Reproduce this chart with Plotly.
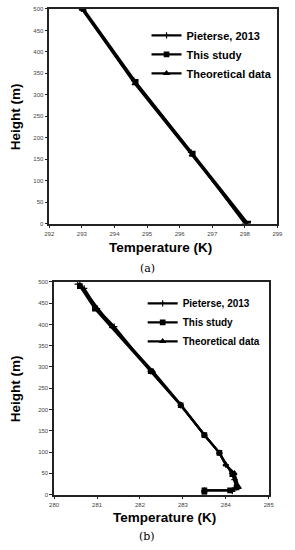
import plotly.graph_objects as go

# ---- Panel (a) data ----
a_pieterse_T = [293.0, 294.6, 296.35, 298.0]
a_pieterse_H = [500, 333, 166, 0]
a_study_T = [293.05, 294.65, 296.4, 298.1]
a_study_H = [500, 330, 163, 0]
a_theory_T = [293.0, 294.62, 296.37, 298.05]
a_theory_H = [500, 326, 160, 0]

# ---- Panel (b) data ----
b_pieterse_T = [280.55, 280.7, 281.0, 281.4, 282.25, 282.95, 283.5, 283.85, 284.0, 284.15, 284.2, 284.25, 284.15]
b_pieterse_H = [495, 485, 437, 395, 290, 210, 140, 98, 70, 50, 35, 17, 8]
b_study_T = [280.6, 280.95, 282.25, 282.95, 283.5, 283.85, 284.15, 284.25, 284.1, 283.5, 283.5]
b_study_H = [490, 437, 290, 210, 140, 98, 48, 17, 10, 10, 4]
b_theory_T = [280.6, 281.35, 282.3, 282.95, 283.5, 283.85, 284.0, 284.2, 284.3, 284.15, 283.5]
b_theory_H = [493, 395, 290, 212, 140, 98, 70, 50, 17, 10, 10]

names = ["Pieterse, 2013", "This study", "Theoretical data"]
symbols = ["cross-thin", "square", "triangle-up"]

a_x_ticks = [292, 293, 294, 295, 296, 297, 298, 299]
b_x_ticks = [280, 281, 282, 283, 284, 285]
y_ticks = [0, 50, 100, 150, 200, 250, 300, 350, 400, 450, 500]

fig = go.Figure()

series_a = [(a_pieterse_T, a_pieterse_H), (a_study_T, a_study_H), (a_theory_T, a_theory_H)]
series_b = [(b_pieterse_T, b_pieterse_H), (b_study_T, b_study_H), (b_theory_T, b_theory_H)]

for xa, ya, lg, series in [("x", "y", "legend", series_a), ("x2", "y2", "legend2", series_b)]:
    for i, (t, h) in enumerate(series):
        fig.add_trace(go.Scatter(
            x=t, y=h, mode="lines+markers", name=names[i],
            line=dict(color="black", width=2.2),
            marker=dict(symbol=symbols[i], size=4.5, color="black",
                        line=dict(color="black", width=1.2)),
            xaxis=xa, yaxis=ya, legend=lg))

W, H = 295, 550
axis_common = dict(showgrid=False, zeroline=False, showline=True, linecolor="#222",
                   linewidth=1.5, mirror=True, ticks="outside", ticklen=3,
                   tickcolor="#222", ticklabeloverflow="allow",
                   tickfont=dict(family="Liberation Sans", size=6, color="#444"))

fig.update_layout(
    width=W, height=H, margin=dict(l=0, r=0, t=0, b=0),
    paper_bgcolor="white", plot_bgcolor="white",
    xaxis=dict(domain=[46 / W, 283 / W], range=[292, 299], tickvals=a_x_ticks,
               anchor="y", **axis_common),
    yaxis=dict(domain=[1 - 223 / H, 1 - 6 / H], range=[0, 500], tickvals=y_ticks,
               anchor="x", **axis_common),
    xaxis2=dict(domain=[51 / W, 274 / W], range=[280, 285], tickvals=b_x_ticks,
                anchor="y2", **axis_common),
    yaxis2=dict(domain=[1 - 497 / H, 1 - 282 / H], range=[0, 500], tickvals=y_ticks,
                anchor="x2", **axis_common),
    legend=dict(x=147 / W, y=1 - 18 / H, xanchor="left", yanchor="top",
                bgcolor="rgba(0,0,0,0)", tracegroupgap=0, itemwidth=30,
                font=dict(family="Liberation Sans", size=11, color="black", weight="bold")),
    legend2=dict(x=143 / W, y=1 - 289 / H, xanchor="left", yanchor="top",
                 bgcolor="rgba(0,0,0,0)", tracegroupgap=0, itemwidth=30,
                 font=dict(family="Liberation Sans", size=10, color="black", weight="bold")),
)

title_font = dict(family="Liberation Sans", size=13.5, color="black", weight="bold")
ann = [
    dict(text="Height (m)", x=11 / W, y=1 - 115 / H, textangle=-90, font=title_font),
    dict(text="Temperature (K)", x=162 / W, y=1 - 247 / H, font=title_font),
    dict(text="(a)", x=148 / W, y=1 - 268 / H,
         font=dict(family="DejaVu Serif", size=11, color="black")),
    dict(text="Height (m)", x=11 / W, y=1 - 390 / H, textangle=-90, font=title_font),
    dict(text="Temperature (K)", x=166 / W, y=1 - 520 / H, font=title_font),
    dict(text="(b)", x=148 / W, y=1 - 539 / H,
         font=dict(family="DejaVu Serif", size=11, color="black")),
]
for a in ann:
    fig.add_annotation(xref="paper", yref="paper", showarrow=False,
                       xanchor="center", yanchor="middle", **a)

fig.write_html("out.html", config={"displayModeBar": False},
               post_script="document.body.style.margin='0';document.body.style.overflow='hidden';")
